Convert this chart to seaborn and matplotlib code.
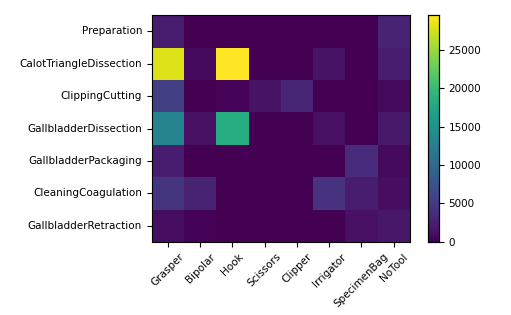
import numpy as np
import pandas as pd
import matplotlib
matplotlib.use("Agg")
import matplotlib.pyplot as plt
import seaborn as sns

phases = ["Preparation", "CalotTriangleDissection", "ClippingCutting",
          "GallbladderDissection", "GallbladderPackaging",
          "CleaningCoagulation", "GallbladderRetraction"]
tools = ["Grasper", "Bipolar", "Hook", "Scissors", "Clipper",
         "Irrigator", "SpecimenBag", "NoTool"]

preparation = [2300, 0, 0, 100, 100, 0, 0, 2800]
calot = [28000, 800, 29500, 0, 0, 1400, 0, 2400]
clipping = [5500, 0, 300, 1400, 3200, 0, 0, 800]
dissection = [13200, 1200, 18300, 0, 0, 1200, 0, 1900]
packaging = [2300, 0, 0, 0, 0, 0, 3500, 800]
cleaning = [4500, 2800, 0, 0, 0, 4200, 2400, 1000]
retraction = [1000, 200, 0, 0, 0, 0, 1200, 1800]

df = pd.DataFrame([preparation, calot, clipping, dissection, packaging,
                   cleaning, retraction], index=phases, columns=tools)

sns.set_style("white")
plt.rcParams['font.family'] = ['DejaVu Sans']
plt.rcParams['text.color'] = 'black'
plt.rcParams['xtick.color'] = 'black'
plt.rcParams['ytick.color'] = 'black'
plt.rcParams['axes.labelcolor'] = 'black'
fig = plt.figure(figsize=(5.11, 3.15), dpi=100)
ax = fig.add_axes([0.297, 0.232, 0.505, 0.72])
cax = fig.add_axes([0.838, 0.232, 0.021, 0.72])
sns.heatmap(df, ax=ax, cbar_ax=cax, cmap="viridis", vmin=0, vmax=29500,
            cbar_kws={"ticks": [0, 5000, 10000, 15000, 20000, 25000]})
for s in ax.spines.values():
    s.set_visible(True)
    s.set_color("black")
    s.set_linewidth(0.8)
ax.tick_params(axis="both", which="both", length=3.5, width=0.8, color="black",
               labelcolor="black", labelsize=7.5, bottom=True, left=True)
ax.set_xticklabels(tools, rotation=45, ha="center")
ax.set_yticklabels(phases, rotation=0)
ax.set_xlabel("")
ax.set_ylabel("")
cax.tick_params(labelsize=7.5, length=3.5, width=0.8, right=True,
                color="black", labelcolor="black")
for s in cax.spines.values():
    s.set_visible(True)
    s.set_color("black")
    s.set_linewidth(0.8)
fig.savefig("out.png", dpi=100)
